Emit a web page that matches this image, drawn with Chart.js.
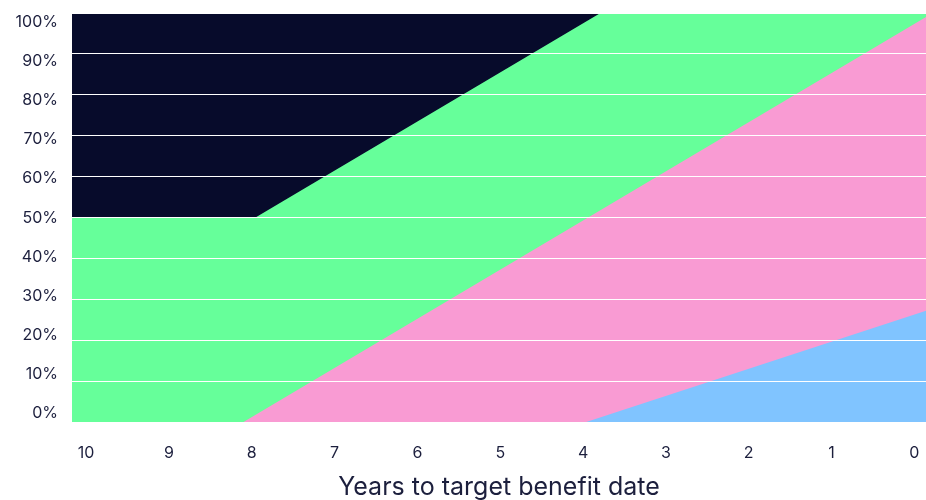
<!DOCTYPE html>
<html>
<head>
<meta charset="utf-8">
<script src="https://cdn.jsdelivr.net/npm/chart.js@4/dist/chart.umd.min.js"></script>
<style>
  html, body { margin: 0; padding: 0; background: #fff; }
  #wrap { width: 926px; height: 500px; }
</style>
</head>
<body>
<div id="wrap"><canvas id="chart"></canvas></div>
<script>
// tick labels
var yearTicks = [10, 9, 8, 7, 6, 5, 4, 3, 2, 1, 0];
var pctTicks = [0, 10, 20, 30, 40, 50, 60, 70, 80, 90, 100];

// top edge of each band (cumulative %), x in years to target date
// first/last x are where the band meets the plot edges
var navyYears  = [10.17, -0.14];
var navyTop    = [100, 100];
var greenYears = [10.17, 7.96, 3.79, -0.14];
var greenTop   = [50, 50, 100, 100];
var pinkYears  = [10.17, 8.11, -0.14];
var pinkTop    = [0, 0, 99];
var blueYears  = [10.17, 3.98, -0.14];
var blueTop    = [0, 0, 27.3];

var textColor = '#1c1f3d';
var fontName = 'Inter, "Open Sans", sans-serif';

function to_points(xs, ys){
    var pts = []
    for(var i = 0; i < xs.length; i++){
        pts.push({x: xs[i], y: ys[i]})
    }
    return pts
}

function band(pts, color){
    return {
        data: pts,
        backgroundColor: color,
        borderWidth: 0,
        pointRadius: 0,
        tension: 0,
        fill: 'origin',
        yAxisID: 'y'
    }
}

var ctx = document.getElementById('chart').getContext('2d');

// first dataset is painted last, so blue goes first
new Chart(ctx, {
    type: 'line',
    data: {
        datasets: [
            band(to_points(blueYears, blueTop), '#80c4ff'),
            band(to_points(pinkYears, pinkTop), '#f99bd3'),
            band(to_points(greenYears, greenTop), '#66ff9a'),
            band(to_points(navyYears, navyTop), '#070b2b')
        ]
    },
    options: {
        responsive: true,
        maintainAspectRatio: false,
        animation: false,
        layout: {padding: {top: 13, left: 0, right: 0, bottom: 0}},
        plugins: {
            legend: {display: false},
            tooltip: {enabled: false}
        },
        scales: {
            x: {
                type: 'linear',
                reverse: true,
                min: -0.14,
                max: 10.17,
                afterBuildTicks: function(s){ s.ticks = yearTicks.map(function(v){ return {value: v} }) },
                afterFit: function(s){ s.height = 77.5 },
                // tick marks hidden, tickLength only pushes the labels down
                grid: {display: false, drawTicks: true, tickLength: 21},
                border: {display: false},
                ticks: {
                    color: textColor,
                    font: {family: fontName, size: 16},
                    padding: 0,
                    maxRotation: 0,
                    autoSkip: false
                },
                title: {
                    display: true,
                    text: 'Years to target benefit date',
                    color: textColor,
                    font: {family: fontName, size: 25},
                    padding: {top: 0, bottom: -2}
                }
            },
            y: {
                type: 'linear',
                position: 'left',
                min: 0,
                max: 100,
                afterBuildTicks: function(s){ s.ticks = pctTicks.map(function(v){ return {value: v} }) },
                afterFit: function(s){ s.width = 0 },
                grid: {color: '#ffffff', lineWidth: 1, drawTicks: false, z: 1},
                border: {display: false},
                ticks: {display: false}
            },
            // labels only, they sit a bit inside the gridlines
            yl: {
                type: 'linear',
                position: 'left',
                min: -2.25,
                max: 102.3,
                afterBuildTicks: function(s){ s.ticks = pctTicks.map(function(v){ return {value: v} }) },
                afterFit: function(s){ s.width = 72 },
                grid: {display: false, drawTicks: true, tickLength: 14},
                border: {display: false},
                ticks: {
                    color: textColor,
                    font: {family: fontName, size: 16},
                    padding: 0,
                    callback: function(v){ return v + '%' }
                }
            }
        }
    }
});
</script>
</body>
</html>
